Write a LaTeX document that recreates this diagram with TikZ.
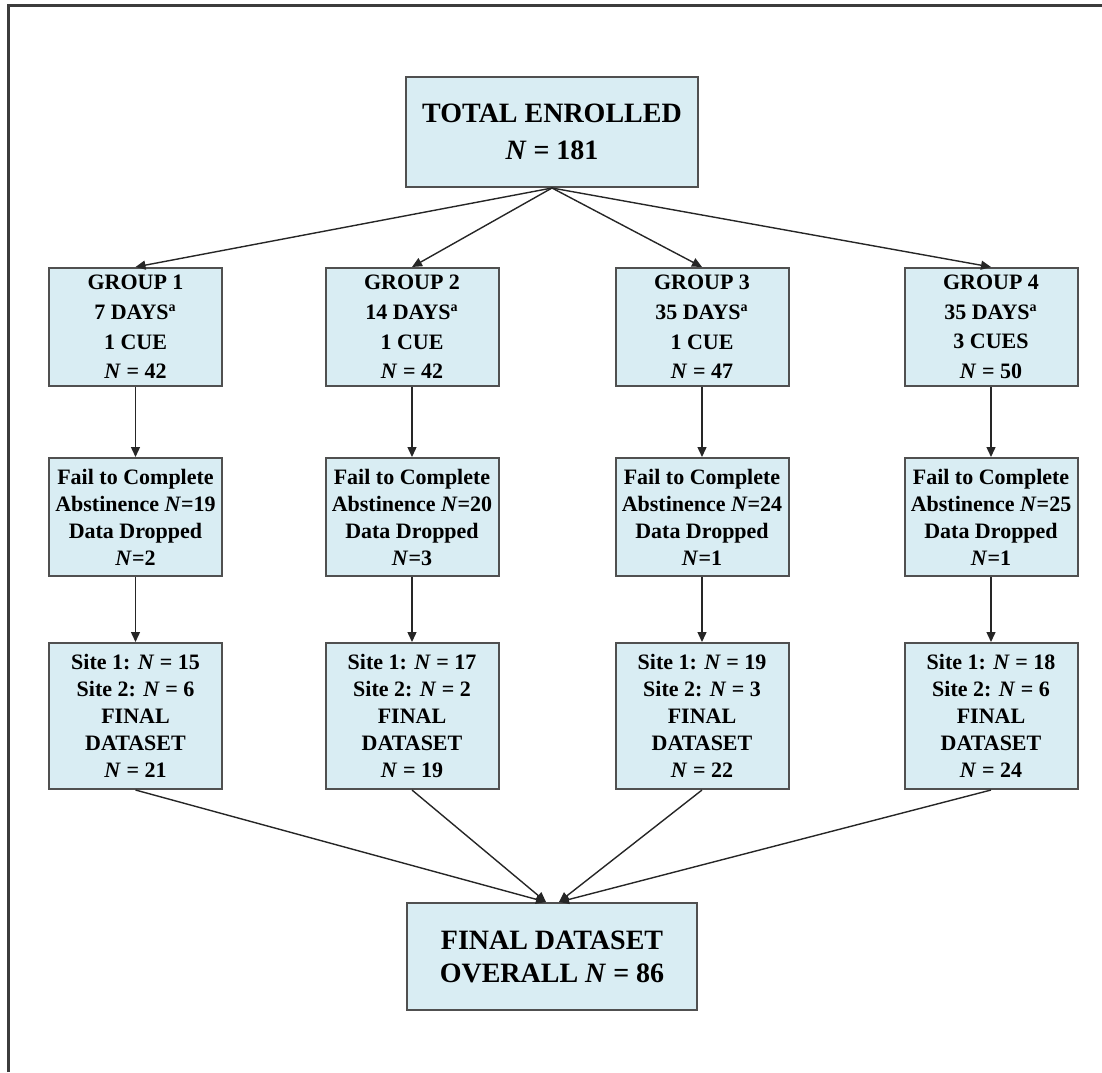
\documentclass[tikz,border=0pt]{standalone}
\usepackage{fontspec}
\setmainfont{Liberation Serif}
\usetikzlibrary{arrows.meta,positioning}
\definecolor{flowfill}{RGB}{217,237,243}
\definecolor{flowedge}{RGB}{80,80,80}
\definecolor{framegrey}{RGB}{60,60,60}

\begin{document}
\begin{tikzpicture}[x=0.5pt, y=-0.5pt,
    box/.style={rectangle, draw=flowedge, line width=1pt, fill=flowfill, align=center,
                inner sep=2pt, font=\fontsize{11}{13.5}\selectfont\bfseries},
    groupbox/.style={box, minimum width=86.5pt, minimum height=59pt,
                     font=\fontsize{11}{14.8}\selectfont\bfseries},
    dropbox/.style={box, minimum width=86.5pt, minimum height=59pt},
    sitebox/.style={box, minimum width=86.5pt, minimum height=73pt},
    bigbox/.style={box, minimum width=146pt, minimum height=55pt,
                   font=\fontsize{14}{18.5}\selectfont\bfseries},
    flow/.style={-{Triangle[length=5pt,width=4.5pt]}, line width=0.7pt, black!85}
]
    \useasboundingbox (0,0) rectangle (1102,1072);
    \draw[framegrey, line width=1.5pt] (8,1072) -- (8,5) -- (1102,5);
    % top
    \node[bigbox] (total) at (552,132) {TOTAL ENROLLED\\\textit{N} = 181};
    % groups
    \node[groupbox] (g1) at (135.5,327) {GROUP 1\\7 DAYS\textsuperscript{\scriptsize a}\\1 CUE\\\textit{N} = 42};
    \node[groupbox] (g2) at (412,327) {GROUP 2\\14 DAYS\textsuperscript{\scriptsize a}\\1 CUE\\\textit{N} = 42};
    \node[groupbox] (g3) at (702,327) {GROUP 3\\35 DAYS\textsuperscript{\scriptsize a}\\1 CUE\\\textit{N} = 47};
    \node[groupbox] (g4) at (991,327) {GROUP 4\\35 DAYS\textsuperscript{\scriptsize a}\\3 CUES\\\textit{N} = 50};
    % dropped
    \node[dropbox] (d1) at (135.5,517) {Fail to Complete\\Abstinence \textit{N}=19\\Data Dropped\\\textit{N}=2};
    \node[dropbox] (d2) at (412,517) {Fail to Complete\\Abstinence \textit{N}=20\\Data Dropped\\\textit{N}=3};
    \node[dropbox] (d3) at (702,517) {Fail to Complete\\Abstinence \textit{N}=24\\Data Dropped\\\textit{N}=1};
    \node[dropbox] (d4) at (991,517) {Fail to Complete\\Abstinence \textit{N}=25\\Data Dropped\\\textit{N}=1};
    % sites
    \node[sitebox] (s1) at (135.5,716) {Site 1: \textit{N} = 15\\Site 2: \textit{N} = 6\\FINAL\\DATASET\\\textit{N} = 21};
    \node[sitebox] (s2) at (412,716) {Site 1: \textit{N} = 17\\Site 2: \textit{N} = 2\\FINAL\\DATASET\\\textit{N} = 19};
    \node[sitebox] (s3) at (702,716) {Site 1: \textit{N} = 19\\Site 2: \textit{N} = 3\\FINAL\\DATASET\\\textit{N} = 22};
    \node[sitebox] (s4) at (991,716) {Site 1: \textit{N} = 18\\Site 2: \textit{N} = 6\\FINAL\\DATASET\\\textit{N} = 24};
    % overall
    \node[bigbox, minimum width=145pt, minimum height=53.5pt,
          font=\fontsize{14}{16.5}\selectfont\bfseries] (final) at (552,956.5)
          {FINAL DATASET\\OVERALL \textit{N} = 86};

    \draw[flow] (total.south) -- (g1.north);
    \draw[flow] (total.south) -- (g2.north);
    \draw[flow] (total.south) -- (g3.north);
    \draw[flow] (total.south) -- (g4.north);
    \draw[flow] (g1) -- (d1);
    \draw[flow] (g2) -- (d2);
    \draw[flow] (g3) -- (d3);
    \draw[flow] (g4) -- (d4);
    \draw[flow] (d1) -- (s1);
    \draw[flow] (d2) -- (s2);
    \draw[flow] (d3) -- (s3);
    \draw[flow] (d4) -- (s4);
    \draw[flow] (s1.south) -- ([xshift=-3pt]final.north);
    \draw[flow] (s2.south) -- ([xshift=-3pt]final.north);
    \draw[flow] (s3.south) -- ([xshift=3.5pt]final.north);
    \draw[flow] (s4.south) -- ([xshift=3.5pt]final.north);
\end{tikzpicture}
\end{document}
